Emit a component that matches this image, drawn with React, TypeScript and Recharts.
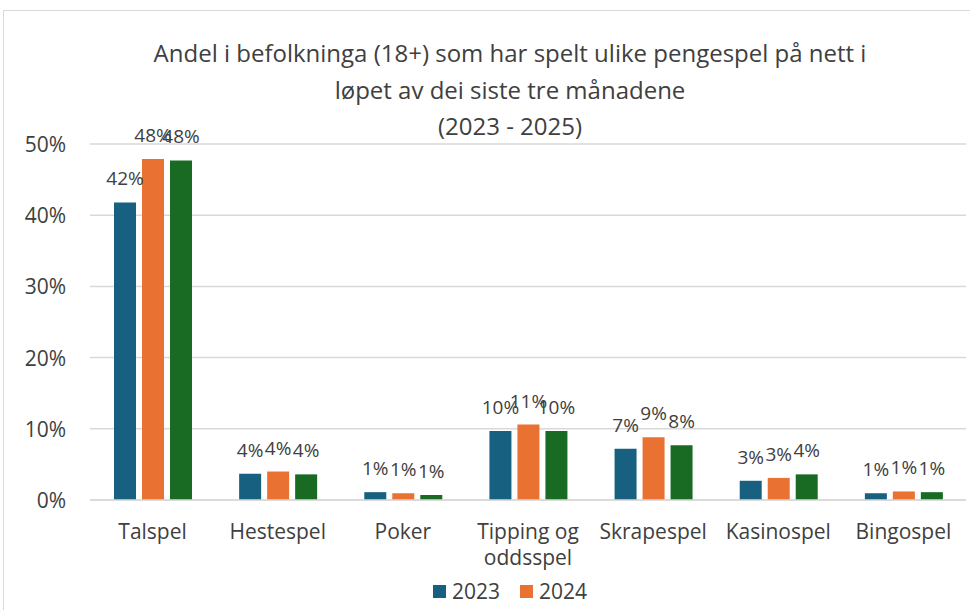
import React from "react";
import { BarChart, Bar, XAxis, YAxis, CartesianGrid, Legend, LabelList } from "recharts";

const categories = ["Talspel", "Hestespel", "Poker", "Tipping og oddsspel", "Skrapespel", "Kasinospel", "Bingospel"];
const values2023 = [0.418, 0.037, 0.011, 0.097, 0.072, 0.027, 0.0095];
const values2024 = [0.479, 0.040, 0.0095, 0.106, 0.088, 0.031, 0.012];
const values2025 = [0.477, 0.036, 0.007, 0.097, 0.077, 0.036, 0.011];
const yTicks = [0, 0.1, 0.2, 0.3, 0.4, 0.5];
const titleLines = [
  "Andel i befolkninga (18+) som har spelt ulike pengespel på nett i",
  "løpet av dei siste tre månadene",
  "(2023 - 2025)",
];
const legendItems = [
  { name: "2023", color: "#17607f" },
  { name: "2024", color: "#e97132" },
];

const data = categories.map((c, i) => ({
  name: c,
  y2023: values2023[i],
  y2024: values2024[i],
  y2025: values2025[i],
}));

const FONT = "'Open Sans', sans-serif";
const TEXT = "#404040";

const pct = (v: any) => `${Math.round(Number(v) * 100)}%`;

const CatTick = (props: any) => {
  const { x, y, payload } = props;
  const label: string = payload.value;
  const lines = label === "Tipping og oddsspel" ? ["Tipping og", "oddsspel"] : [label];
  return (
    <text x={x} y={y} textAnchor="middle" fill={TEXT} fontSize={21} fontFamily={FONT}>
      {lines.map((l, i) => (
        <tspan key={i} x={x} dy={i === 0 ? 37 : 26}>
          {l}
        </tspan>
      ))}
    </text>
  );
};

const YTick = (props: any) => {
  const { x, y, payload } = props;
  return (
    <text x={x} y={y + 8} textAnchor="end" fill={TEXT} fontSize={21} fontFamily={FONT}>
      {pct(payload.value)}
    </text>
  );
};

const LegendContent = () => (
  <div style={{ display: "flex", justifyContent: "center", height: 26, alignItems: "center", fontFamily: FONT, fontSize: 21, color: TEXT }}>
    {legendItems.map((it) => (
      <div key={it.name} style={{ display: "flex", alignItems: "center", margin: "0 10px" }}>
        <div style={{ width: 13, height: 13, background: it.color, marginRight: 6 }} />
        <span>{it.name}</span>
      </div>
    ))}
  </div>
);

export default function App() {
  return (
    <div style={{ position: "absolute", left: 0, top: 0, width: 970, height: 610, overflow: "hidden", background: "#fff" }}>
      <div style={{ position: "absolute", left: 3, top: 10, width: 1100, height: 1100, border: "1.5px solid #d9d9d9", boxSizing: "border-box" }} />
      <div style={{ position: "absolute", left: 0, top: 0, width: 970, height: 610 }}>
        <BarChart
          width={970}
          height={610}
          data={data}
          margin={{ top: 144, right: 4, left: 0, bottom: 0 }}
          barSize={22}
          barGap={6}
        >
          <CartesianGrid vertical={false} stroke="#d9d9d9" strokeWidth={1.5} />
          <XAxis
            dataKey="name"
            axisLine={{ stroke: "#d9d9d9", strokeWidth: 1.5 }}
            tickLine={false}
            tickSize={0}
            height={84}
            interval={0}
            tick={<CatTick />}
          />
          <YAxis
            domain={[0, 0.5]}
            ticks={yTicks}
            axisLine={false}
            tickLine={false}
            tickSize={0}
            tickMargin={24}
            width={90}
            tick={<YTick />}
          />
          <Legend content={<LegendContent />} verticalAlign="bottom" wrapperStyle={{ top: 578, bottom: "auto", left: 50, width: 920 }} />
          <Bar dataKey="y2023" name="2023" fill="#17607f" isAnimationActive={false}>
            <LabelList dataKey="y2023" position="top" offset={17} formatter={pct} fill={TEXT} fontSize={19} fontFamily={FONT} />
          </Bar>
          <Bar dataKey="y2024" name="2024" fill="#e97132" isAnimationActive={false}>
            <LabelList dataKey="y2024" position="top" offset={17} formatter={pct} fill={TEXT} fontSize={19} fontFamily={FONT} />
          </Bar>
          <Bar dataKey="y2025" name="2025" fill="#196b24" isAnimationActive={false}>
            <LabelList dataKey="y2025" position="top" offset={17} formatter={pct} fill={TEXT} fontSize={19} fontFamily={FONT} />
          </Bar>
        </BarChart>
      </div>
      <div style={{ position: "absolute", left: 0, top: 35, width: 1020, textAlign: "center", fontFamily: FONT, fontSize: 24, lineHeight: "36.5px", color: TEXT }}>
        {titleLines.map((t, i) => (
          <div key={i}>{t}</div>
        ))}
      </div>
    </div>
  );
}
